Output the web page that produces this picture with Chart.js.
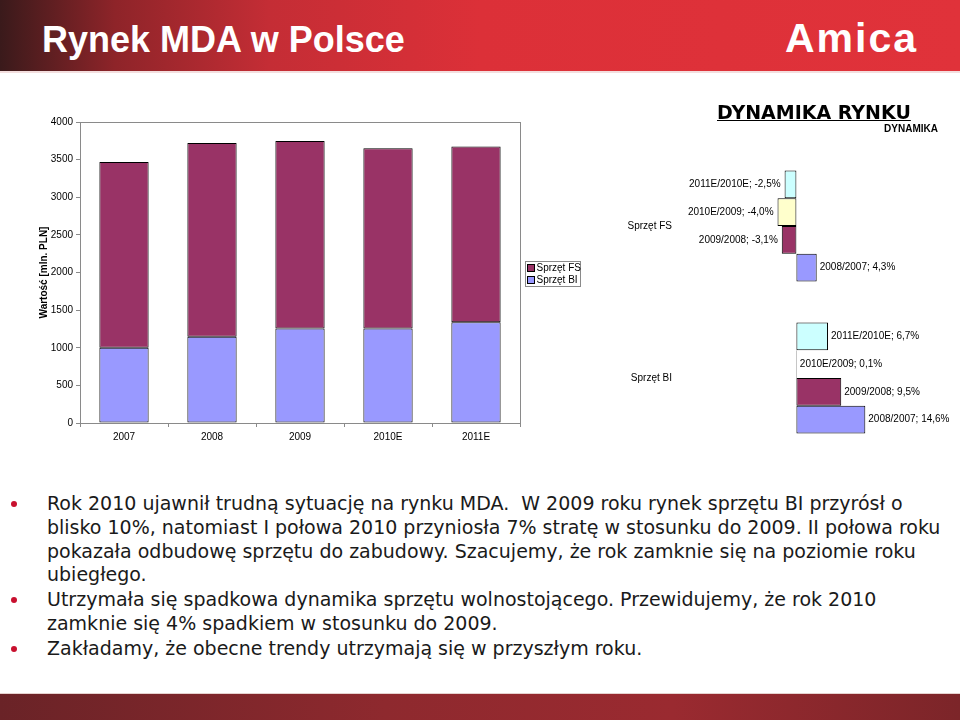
<!DOCTYPE html>
<html>
<head>
<meta charset="utf-8">
<script src="https://cdn.jsdelivr.net/npm/chart.js@4/dist/chart.umd.min.js"></script>
<style>
  html, body { margin: 0; padding: 0; background: #fff; }
  #slide { position: relative; width: 960px; height: 720px; overflow: hidden; font-family: "Liberation Sans", Arial, sans-serif; }
  #header { position: absolute; left: 0; top: 0; width: 960px; height: 71px;
    background: linear-gradient(to right, #3a1a1b 0%, #8e2429 12%, #c42d35 28%, #dc3038 50%, #e0323a 100%);
    border-bottom: 2px solid #f3dede; }
  #title { position: absolute; left: 42px; top: 20px; font: bold 36px/40px "Liberation Sans", Arial, sans-serif; color: #fff; }
  #logo { position: absolute; left: 785px; top: 18px; font: bold 41px/41px "Liberation Sans", Arial, sans-serif; letter-spacing: 2px; color: #fff; }
  #footer { position: absolute; left: 0; top: 693px; width: 960px; height: 27px;
    background: linear-gradient(to right, #6a2327 0%, #8e292e 40%, #9a2a30 70%, #7c2529 100%);
    border-top: 1px solid #e6d2cf; }
  #leftChart { position: absolute; left: 0; top: 100px; }
  #rightChart { position: absolute; left: 590px; top: 95px; }
  #dynTitle { position: absolute; left: 717px; top: 101px; font: bold 19px/22px "DejaVu Sans", Verdana, sans-serif; text-decoration: underline; color: #000; }
  #bullets { position: absolute; left: 0; top: 492px; margin: 0; padding: 0; list-style: none;
    font: 19px/23.8px "DejaVu Sans", Verdana, sans-serif; color: #1a1a1a; }
  #bullets li { position: relative; padding-left: 47px; margin-bottom: 1px; white-space: nowrap; }
  #bullets li::before { content: ""; position: absolute; left: 11px; top: 9px; width: 6px; height: 6px; border-radius: 50%; background: #c8102e; }
</style>
</head>
<body>
<div id="slide">
  <div id="header"></div>
  <div id="title">Rynek MDA w Polsce</div>
  <div id="logo">Amica</div>

  <canvas id="leftChart" width="590" height="350"></canvas>
  <canvas id="rightChart" width="370" height="365"></canvas>
  <div id="dynTitle">DYNAMIKA RYNKU</div>

  <ul id="bullets">
    <li>Rok 2010 ujawnił trudną sytuację na rynku MDA.&nbsp; W 2009 roku rynek sprzętu BI przyrósł o<br>blisko 10%, natomiast I połowa 2010 przyniosła 7% stratę w stosunku do 2009. II połowa roku<br>pokazała odbudowę sprzętu do zabudowy. Szacujemy, że rok zamknie się na poziomie roku<br>ubiegłego.</li>
    <li>Utrzymała się spadkowa dynamika sprzętu wolnostojącego. Przewidujemy, że rok 2010<br>zamknie się 4% spadkiem w stosunku do 2009.</li>
    <li>Zakładamy, że obecne trendy utrzymają się w przyszłym roku.</li>
  </ul>
  <div id="footer"></div>
</div>

<script>
// Wartość rynku [mln PLN]
const years = ['2007', '2008', '2009', '2010E', '2011E'];
const valuesBI = [1000, 1146, 1255, 1256, 1340];
const valuesFS = [2468, 2574, 2494, 2394, 2334];
const valueTicks = [0, 500, 1000, 1500, 2000, 2500, 3000, 3500, 4000];

// Dynamika rynku [%]
const segments = ['Sprzęt FS', 'Sprzęt BI'];
const periods = ['2011E/2010E', '2010E/2009', '2009/2008', '2008/2007'];
const dyn2011 = [-2.5, 6.7];
const dyn2010 = [-4.0, 0.1];
const dyn2009 = [-3.1, 9.5];
const dyn2008 = [4.3, 14.6];

const colFS = '#993366';
const colBI = '#9999FF';
const font10 = { family: 'Liberation Sans, Arial, sans-serif', size: 10 };

// ramka wokół obszaru wykresu
const plotBorder = {
    id: 'plotBorder',
    afterDatasetsDraw(chart) {
        const a = chart.chartArea;
        const ctx = chart.ctx;
        ctx.save();
        ctx.strokeStyle = '#8a8a8a';
        ctx.lineWidth = 1;
        ctx.strokeRect(Math.round(a.left) + 0.5, Math.round(a.top) + 0.5,
            Math.round(a.right - a.left), Math.round(a.bottom - a.top));
        ctx.restore();
    }
};

// legenda w ramce (jak w Excelu)
const boxLegend = {
    id: 'boxLegend',
    afterDraw(chart) {
        const ctx = chart.ctx;
        const x = 525.5, y = 161.5, w = 55, h = 25;
        ctx.save();
        ctx.strokeStyle = '#8a8a8a';
        ctx.lineWidth = 1;
        ctx.strokeRect(x, y, w, h);
        ctx.font = '10px Liberation Sans, Arial, sans-serif';
        ctx.textBaseline = 'middle';
        const items = chart.data.datasets.slice().reverse();
        items.forEach((ds, i) => {
            const cy = y + 6.5 + i * 12;
            ctx.fillStyle = ds.backgroundColor;
            ctx.fillRect(x + 2, cy - 3.5, 7, 7);
            ctx.strokeStyle = '#000';
            ctx.strokeRect(x + 2, cy - 3.5, 7, 7);
            ctx.fillStyle = '#000';
            ctx.fillText(ds.label, x + 11, cy + 0.5);
        });
        ctx.restore();
    }
};

new Chart(document.getElementById('leftChart'), {
    type: 'bar',
    data: {
        labels: years,
        datasets: [
            { label: 'Sprzęt BI', data: valuesBI, backgroundColor: colBI },
            { label: 'Sprzęt FS', data: valuesFS, backgroundColor: colFS }
        ]
    },
    options: {
        responsive: false,
        animation: false,
        layout: { padding: { left: 0, right: 70, top: 22, bottom: 0 } },
        datasets: {
            bar: { borderColor: '#000', borderWidth: 1, borderSkipped: false, barPercentage: 0.56, categoryPercentage: 1 }
        },
        plugins: { legend: { display: false }, tooltip: { enabled: false } },
        scales: {
            x: {
                stacked: true,
                grid: { offset: true, drawOnChartArea: false, tickLength: 4, color: '#8a8a8a' },
                border: { color: '#8a8a8a' },
                ticks: { font: font10, color: '#000', padding: 4 },
                afterFit: s => { s.height = 27; }
            },
            y: {
                stacked: true,
                min: 0,
                max: 4000,
                afterBuildTicks: s => { s.ticks = valueTicks.map(v => ({ value: v })); },
                grid: { drawOnChartArea: false, tickLength: 4, color: '#8a8a8a' },
                border: { color: '#8a8a8a' },
                ticks: { font: font10, color: '#000', padding: 3, callback: v => String(v) },
                title: { display: true, text: 'Wartość [mln. PLN]', font: { ...font10, weight: 'bold' }, color: '#000', padding: { top: 38, bottom: 0 } },
                afterFit: s => { s.width = 80; }
            }
        }
    },
    plugins: [plotBorder, boxLegend]
});

// etykiety danych "okres; wartość%"
const barLabels = {
    id: 'barLabels',
    afterDatasetsDraw(chart) {
        const ctx = chart.ctx;
        ctx.save();
        ctx.font = '10px Liberation Sans, Arial, sans-serif';
        ctx.fillStyle = '#000';
        ctx.textBaseline = 'middle';
        chart.data.datasets.forEach((ds, di) => {
            const meta = chart.getDatasetMeta(di);
            meta.data.forEach((bar, i) => {
                const v = ds.data[i];
                const txt = ds.label + '; ' + v.toFixed(1).replace('.', ',') + '%';
                if (v < 0) {
                    ctx.textAlign = 'right';
                    ctx.fillText(txt, bar.x - 4, bar.y);
                } else {
                    ctx.textAlign = 'left';
                    ctx.fillText(txt, bar.x + 3, bar.y);
                }
            });
        });
        ctx.restore();
    }
};

new Chart(document.getElementById('rightChart'), {
    type: 'bar',
    data: {
        labels: segments,
        datasets: [
            { label: periods[0], data: dyn2011, backgroundColor: '#CCFFFF' },
            { label: periods[1], data: dyn2010, backgroundColor: '#FFFFCC' },
            { label: periods[2], data: dyn2009, backgroundColor: colFS },
            { label: periods[3], data: dyn2008, backgroundColor: colBI }
        ]
    },
    options: {
        indexAxis: 'y',
        responsive: false,
        animation: false,
        layout: { padding: { left: 0, right: 22, top: 0, bottom: 0 } },
        datasets: {
            bar: { borderColor: '#000', borderWidth: 1, borderSkipped: false, barPercentage: 1, categoryPercentage: 0.73 }
        },
        plugins: {
            legend: { display: false },
            tooltip: { enabled: false },
            title: { display: true, text: 'DYNAMIKA', align: 'end', color: '#000', font: { ...font10, weight: 'bold' }, padding: { top: 28, bottom: 15 } }
        },
        scales: {
            x: { display: false, min: -20, max: 30 },
            y: {
                // odstęp etykiet kategorii robiony długością (niewidocznej) kreski
                grid: { display: true, drawOnChartArea: false, drawTicks: true, tickLength: 30, color: 'rgba(0,0,0,0)' },
                border: { display: false },
                ticks: { font: font10, color: '#000', padding: 0 },
                afterFit: s => { s.width = 112; }
            }
        }
    },
    plugins: [barLabels]
});
</script>
</body>
</html>
